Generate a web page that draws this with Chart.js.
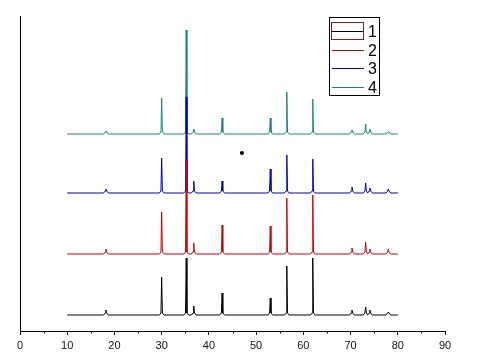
<!DOCTYPE html>
<html>
<head>
<meta charset="utf-8">
<script src="https://cdn.jsdelivr.net/npm/chart.js@4/dist/chart.umd.min.js"></script>
<style>
  html, body { margin: 0; padding: 0; background: #fff; }
  canvas { display: block; }
</style>
</head>
<body>
<canvas id="xrd" width="482" height="361"></canvas>
<script>
// 2-theta positions of the peaks (deg)
var peakPos = [18.2, 30.0, 35.2, 36.8, 42.8, 53.0, 56.5, 62.0, 70.3, 73.2, 74.1, 78.0];

// peak heights above each trace's own baseline (a.u.)
var heights1 = [5, 38, 57, 9, 22, 17, 49, 57, 5, 8, 5, 3];
var heights2 = [5, 42, 94, 11, 29, 28, 56, 59, 6, 12, 5, 5];
var heights3 = [4, 35, 96, 12, 12, 24, 38, 34, 6, 10, 5, 4];
var heights4 = [3, 36, 104, 5, 16, 16, 42, 35, 4, 10, 5, 2];

// vertical offsets of the stacked traces
var offsets = [16, 77, 138, 197];

var labels = ["1", "2", "3", "4"];
var colors = ["#000000", "#cc0000", "#0000b0", "#16877a"];

var xTicks = [0, 10, 20, 30, 40, 50, 60, 70, 80, 90];

// the stray dot in the plot
var dotX = [47.0];
var dotY = [178];

var rangeStart = 10, rangeEnd = 80;

function buildTrace(h, base) {
	var pts = [{ x: rangeStart, y: base }];
	for (var i = 0; i < peakPos.length; i++) {
		var p = peakPos[i];
		pts.push({ x: p - 0.5, y: base });
		pts.push({ x: p - 0.15, y: base + 2 });
		pts.push({ x: p, y: base + h[i] });
		pts.push({ x: p + 0.15, y: base + 2 });
		pts.push({ x: p + 0.5, y: base });
	}
	pts.push({ x: rangeEnd, y: base });
	return pts;
}

var allHeights = [heights1, heights2, heights3, heights4];
var datasets = [];
for (var s = 0; s < 4; s++) {
	datasets.push({
		label: labels[s],
		data: buildTrace(allHeights[s], offsets[s]),
		borderColor: colors[s],
		borderWidth: 1,
		pointRadius: 0,
		tension: 0,
		fill: false
	});
}
datasets.push({
	label: "dot",
	type: "scatter",
	data: dotX.map(function (x, i) { return { x: x, y: dotY[i] }; }),
	pointRadius: 2,
	pointBackgroundColor: "#000",
	pointBorderWidth: 0
});

// minor ticks + boxed legend, drawn on top
var extras = {
	id: "extras",
	afterDraw: function (chart) {
		var ctx = chart.ctx;
		var xs = chart.scales.x;
		var yb = chart.chartArea.bottom;
		ctx.save();
		ctx.strokeStyle = "#000";
		ctx.lineWidth = 1;
		for (var v = 5; v < 90; v += 10) {
			var px = Math.round(xs.getPixelForValue(v)) + 0.5;
			ctx.beginPath();
			ctx.moveTo(px, yb);
			ctx.lineTo(px, yb + 2.5);
			ctx.stroke();
		}

		// legend box
		var bx = 329.5, by = 17.5, bw = 50, bh = 78;
		ctx.strokeStyle = "#000";
		ctx.strokeRect(bx, by, bw, bh);
		ctx.font = "16px 'Liberation Sans', Arial, sans-serif";
		ctx.textBaseline = "middle";
		ctx.textAlign = "left";
		for (var i = 0; i < labels.length; i++) {
			var ly = Math.round(31 + i * 18.7) + 0.5;
			ctx.strokeStyle = colors[i];
			ctx.beginPath();
			ctx.moveTo(332, ly);
			ctx.lineTo(364, ly);
			ctx.stroke();
			ctx.fillStyle = "#000";
			ctx.fillText(labels[i], 368, ly + 1);
		}
		ctx.strokeStyle = "#8b1a1a";
		ctx.strokeRect(331.5, 22.5, 32, 17);
		ctx.restore();
	}
};

new Chart(document.getElementById("xrd"), {
	type: "line",
	data: { datasets: datasets },
	options: {
		responsive: false,
		animation: false,
		events: [],
		layout: { padding: { left: 20, top: 16, right: 37, bottom: 0 } },
		plugins: { legend: { display: false }, tooltip: { enabled: false } },
		scales: {
			x: {
				type: "linear",
				min: 0,
				max: 90,
				afterBuildTicks: function (scale) {
					scale.ticks = xTicks.map(function (v) { return { value: v }; });
				},
				afterFit: function (scale) { scale.height = 30; },
				grid: { display: true, drawOnChartArea: false, drawTicks: true, tickLength: 4, color: "#000", tickColor: "#000" },
				border: { display: true, color: "#000", width: 1 },
				ticks: {
					color: "#111",
					padding: 4,
					maxRotation: 0,
					font: { family: "'Liberation Sans', Arial, sans-serif", size: 11 }
				}
			},
			y: {
				type: "linear",
				min: 0,
				max: 315,
				afterFit: function (scale) { scale.width = 0; },
				grid: { display: false },
				border: { display: true, color: "#000", width: 1 },
				ticks: { display: false }
			}
		}
	},
	plugins: [extras]
});
</script>
</body>
</html>
